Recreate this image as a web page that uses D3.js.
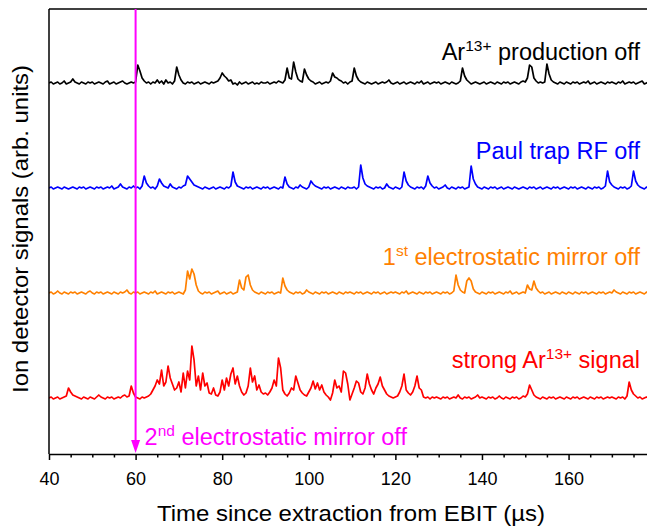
<!DOCTYPE html>
<html>
<head>
<meta charset="utf-8">
<script src="https://cdn.jsdelivr.net/npm/d3@7"></script>
<style>
  body { margin: 0; background: #fff; }
  svg { display: block; }
  text { font-family: "Liberation Sans", Arial, sans-serif; }
</style>
</head>
<body>
<svg id="chart" width="647" height="527"></svg>
<script>
// ion detector traces, sampled every 0.5 us from 40 us
// each row of 20 values = 10 us
const timeStart = 40;
const timeStep = 0.5;

const productionOff = [
  0,1,-1,0,1,-1,0,2,-1,0,1,4,1,0,-1,1,0,-1,1,0,
  1,-1,0,1,0,-1,1,2,-1,0,1,-1,0,1,2,0,-1,0,1,0,
  1,18,12,5,2,0,1,-1,1,0,3,0,2,-1,3,0,1,-1,2,16,
  8,3,0,-1,1,0,1,-1,0,1,-1,0,1,0,-1,1,0,1,2,5,
  10,7,5,2,3,-1,0,-2,1,-1,0,1,-1,0,1,-1,0,-1,1,0,
  0,1,-1,0,1,0,2,1,0,3,15,5,4,21,11,4,2,1,14,8,
  4,2,1,-1,0,1,-1,0,1,0,2,10,6,5,3,2,0,1,-1,1,
  2,15,7,3,1,0,-1,1,0,-1,0,1,-1,0,1,0,1,3,0,-1,
  0,1,-1,0,1,-1,0,1,0,-1,1,0,2,-1,0,1,-1,0,1,0,
  1,-1,0,1,0,-1,1,0,-1,0,2,15,7,3,1,-1,0,1,0,-1,
  0,1,-1,0,1,0,-1,1,0,-1,1,0,1,-1,0,1,0,-1,1,2,
  1,5,18,16,5,2,0,1,0,1,19,9,3,1,0,-1,1,0,-1,1,
  0,-1,1,0,1,-1,0,1,0,2,-1,0,1,-1,0,1,0,-1,1,0,
  1,0,-1,1,0,2,-1,0,1,0,1,-1,0,1,2,-1,0,1,0,0
];

const paulTrapOff = [
  0,1,-1,0,1,0,-1,1,0,-1,0,1,0,-1,1,0,1,-1,0,1,
  0,-1,1,0,1,-1,0,1,0,2,-1,0,1,4,1,0,-1,1,0,2,
  0,1,-1,2,12,5,2,0,1,-1,2,9,5,2,1,0,4,1,0,-1,
  1,0,2,3,12,9,6,3,2,1,0,-1,1,0,-1,0,1,-1,0,1,
  0,-1,1,0,2,16,6,2,1,0,-1,1,0,1,-1,0,1,0,-1,1,
  0,1,-1,0,1,0,-1,1,0,11,4,1,0,-1,1,0,3,1,0,-1,
  1,7,4,2,1,0,-1,1,0,1,-1,0,1,0,-1,1,0,-1,1,0,
  0,1,-1,1,23,10,4,2,1,0,-1,1,0,1,-1,0,4,1,0,-1,
  1,0,-1,1,16,7,3,1,0,-1,1,0,1,-1,2,12,5,2,0,1,
  -1,0,1,3,0,-1,1,0,-1,1,0,1,-1,0,1,22,9,4,1,0,
  -1,1,0,-1,1,0,1,-1,0,1,-1,0,1,0,-1,1,0,-1,0,1,
  0,-1,1,0,1,-1,0,1,-1,0,1,0,-1,1,0,1,-1,0,1,0,
  -1,1,0,1,-1,0,1,0,-1,1,0,-1,1,0,1,-1,0,2,17,6,
  3,1,0,-1,1,0,1,-1,0,2,17,7,3,1,0,-1,1,0,1,0
];

const mirror1Off = [
  0,1,-1,0,2,0,-1,1,0,-1,1,0,1,-1,0,1,0,-1,1,2,
  0,-1,1,0,1,-1,0,1,0,-1,1,0,-1,1,0,1,3,0,-1,1,
  0,1,-1,0,1,0,-1,1,0,2,-1,0,1,0,-1,1,0,1,-1,0,
  1,0,-1,3,22,14,24,19,8,2,0,-1,1,0,1,-1,0,1,2,-1,
  0,1,-1,0,1,-1,0,1,13,5,3,16,18,8,3,1,0,-1,1,0,
  -1,1,0,1,-1,0,1,0,15,7,3,1,0,-1,1,0,1,-1,0,3,
  1,0,-1,1,0,-1,1,0,1,-1,0,1,0,-1,1,0,-1,1,0,1,
  0,-1,1,0,1,-1,0,1,0,-1,1,0,1,-1,0,1,-1,0,1,0,
  1,0,-1,1,0,2,-1,0,1,0,-1,1,0,-1,1,0,1,-1,0,1,
  0,-1,1,0,1,-1,0,2,18,8,3,1,0,12,15,12,4,1,0,-1,
  1,0,-1,1,0,1,-1,0,1,0,-1,1,0,2,-1,0,1,-1,0,1,
  0,8,4,3,12,5,2,0,1,-1,0,1,-1,0,1,0,-1,1,0,-1,
  1,0,-1,1,0,-1,1,0,1,-1,0,1,0,-1,1,0,1,-1,0,1,
  0,3,1,0,-1,1,0,-1,1,0,1,-1,0,1,0,-1,1,0,1,0
];

const strongSignal = [
  0,1,-1,0,1,-1,0,1,2,10,6,3,2,1,0,-1,1,0,-1,1,
  0,-1,1,3,1,0,-1,1,0,1,-1,0,1,0,2,3,1,2,12,5,
  1,0,-1,1,0,1,2,4,8,12,18,14,28,12,16,32,20,14,8,10,
  16,6,25,10,27,18,52,38,12,22,8,25,12,15,5,4,10,3,2,6,
  18,8,20,12,24,30,14,22,12,6,3,5,12,30,16,22,8,13,6,4,
  5,3,6,10,18,12,40,30,8,4,2,5,10,8,22,15,8,5,3,2,
  6,10,17,9,15,8,13,6,3,1,-2,5,18,10,12,6,27,25,14,-2,
  4,10,17,15,6,4,10,24,14,8,4,10,14,21,12,8,4,2,1,0,
  1,2,6,12,24,8,5,3,6,12,22,10,8,1,0,1,-1,1,0,1,
  0,-1,1,0,1,-1,0,1,0,3,0,-1,1,0,1,-1,0,1,3,0,
  1,0,-1,1,0,1,-1,0,2,0,-1,1,0,-1,1,0,1,-1,0,2,
  1,4,13,8,3,1,0,-1,1,0,-1,1,0,1,-1,0,1,0,-1,1,
  0,-1,1,0,1,-1,0,1,0,-1,1,0,-1,1,0,1,-1,0,1,0,
  1,0,-1,1,0,1,-1,2,16,8,4,2,0,1,-1,0,1,0,-1,0
];

// vertical offsets of the stacked traces (arb. units)
const traceOffsets = [371, 266, 161, 56];
const traceColours = ["#000000", "#0000ff", "#ff8000", "#ff0000"];

const majorTicks = [40, 60, 80, 100, 120, 140, 160];
const minorTicks = d3.range(45, 178, 5).filter(t => t % 20 !== 0);
const mirror2Time = 60;

const svg = d3.select("#chart");

const plotLeft = 49, plotTop = 9, plotRight = 646.5, plotBottom = 454;

const x = d3.scaleLinear().domain([40, 178]).range([plotLeft, plotRight]);
const y = d3.scaleLinear().domain([0, 445]).range([plotBottom, plotTop]);

svg.append("clipPath")
        .attr("id", "plotclip")
        .append("rect")
        .attr("x", plotLeft)
        .attr("y", plotTop)
        .attr("width", 647 - plotLeft)
        .attr("height", plotBottom - plotTop);

// traces
const traces = [productionOff, paulTrapOff, mirror1Off, strongSignal];
const line = d3.line()
        .x(d => x(d.t))
        .y(d => y(d.v));

traces.forEach(function(trace, k){
        const pts = trace.map((v, i) => ({t: timeStart + i * timeStep, v: v + traceOffsets[k]}));
        svg.append("path")
                .attr("clip-path", "url(#plotclip)")
                .attr("d", line(pts))
                .attr("fill", "none")
                .attr("stroke", traceColours[k])
                .attr("stroke-width", 1.7)
                .attr("stroke-linejoin", "round");
});

// frame: left and top lines
svg.append("line")
        .attr("x1", plotLeft).attr("y1", plotTop)
        .attr("x2", 647).attr("y2", plotTop)
        .attr("stroke", "#000").attr("stroke-width", 1.5);
svg.append("line")
        .attr("x1", plotLeft).attr("y1", plotTop)
        .attr("x2", plotLeft).attr("y2", plotBottom)
        .attr("stroke", "#000").attr("stroke-width", 1.5);

// bottom axis
const axisMinor = svg.append("g")
        .attr("transform", "translate(0," + plotBottom + ")")
        .call(d3.axisBottom(x).tickValues(minorTicks).tickSize(3.5).tickFormat(""));
axisMinor.select(".domain").remove();
axisMinor.selectAll("line").attr("stroke-width", 1.5);

const axisMajor = svg.append("g")
        .attr("transform", "translate(0," + plotBottom + ")")
        .call(d3.axisBottom(x).tickValues(majorTicks).tickSize(6).tickSizeOuter(0).tickPadding(12));
axisMajor.select(".domain").attr("stroke-width", 1.5);
axisMajor.selectAll("line").attr("stroke-width", 1.5);
axisMajor.selectAll("text")
        .attr("font-size", "18px")
        .attr("font-family", "Liberation Sans, Arial, sans-serif")
        .attr("fill", "#000");

// axis titles
svg.append("text")
        .attr("x", 351)
        .attr("y", 521)
        .attr("text-anchor", "middle")
        .attr("font-size", "22px")
        .attr("textLength", 388)
        .attr("lengthAdjust", "spacingAndGlyphs")
        .text("Time since extraction from EBIT (\u00b5s)");

svg.append("text")
        .attr("transform", "translate(28,229) rotate(-90)")
        .attr("text-anchor", "middle")
        .attr("font-size", "22.5px")
        .attr("textLength", 328)
        .attr("lengthAdjust", "spacingAndGlyphs")
        .text("Ion detector signals (arb. units)");

// trace labels with superscripts
function label(parts, xPos, yPos, colour, anchor){
        const t = svg.append("text")
                .attr("x", xPos)
                .attr("y", yPos)
                .attr("text-anchor", anchor)
                .attr("font-size", "23.5px")
                .attr("fill", colour);
        parts.forEach(function(p){
                if(p.sup){
                        t.append("tspan").attr("dy", -9.5).attr("font-size", "15.5px").text(p.s);
                } else {
                        t.append("tspan").attr("dy", p.after ? 9.5 : 0).text(p.s);
                }
        });
}

label([{s: "Ar"}, {s: "13+", sup: true}, {s: " production off", after: true}], 640, 60, traceColours[0], "end");
label([{s: "Paul trap RF off"}], 640, 159, traceColours[1], "end");
label([{s: "1"}, {s: "st", sup: true}, {s: " electrostatic mirror off", after: true}], 640, 265, traceColours[2], "end");
label([{s: "strong Ar"}, {s: "13+", sup: true}, {s: " signal", after: true}], 640, 368, traceColours[3], "end");

// 2nd mirror marker
const mx = x(mirror2Time);
svg.append("line")
        .attr("x1", mx).attr("y1", plotTop)
        .attr("x2", mx).attr("y2", plotBottom - 10)
        .attr("stroke", "#ff00ff")
        .attr("stroke-width", 2);
svg.append("path")
        .attr("d", "M" + (mx - 4.5) + "," + (plotBottom - 14) + "L" + (mx + 4.5) + "," + (plotBottom - 14) + "L" + mx + "," + (plotBottom - 1) + "Z")
        .attr("fill", "#ff00ff");
label([{s: "2"}, {s: "nd", sup: true}, {s: " electrostatic mirror off", after: true}], mx + 9, 445, "#ff00ff", "start");
</script>
</body>
</html>
